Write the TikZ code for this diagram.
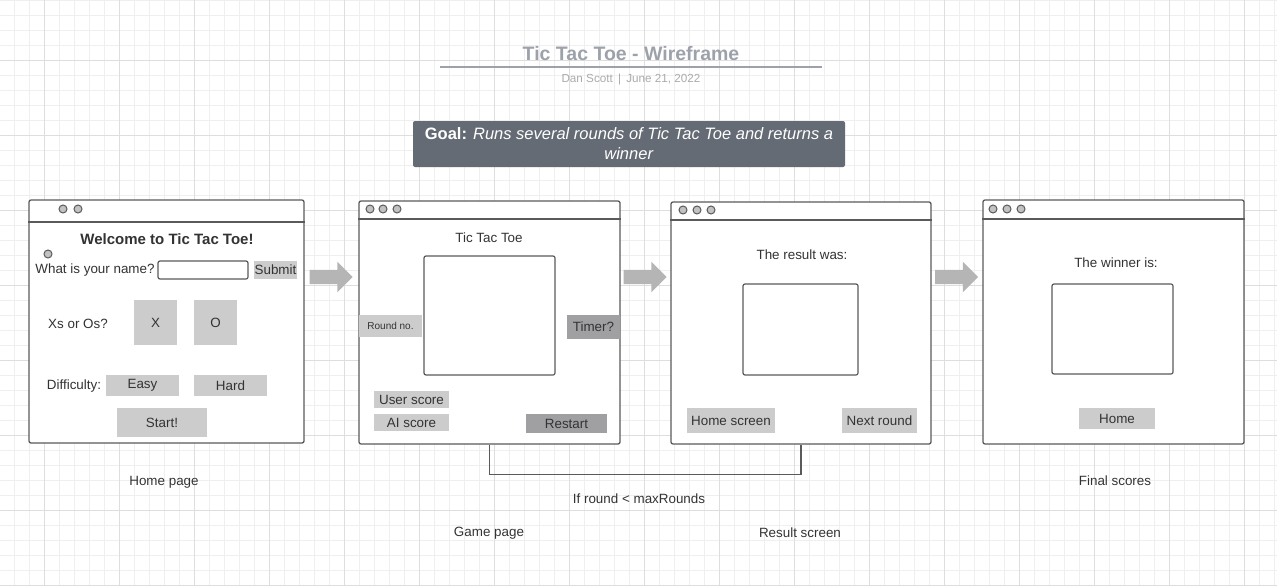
\documentclass[tikz,border=0pt]{standalone}
\usepackage{fontspec}
\setmainfont{Liberation Sans}
\usetikzlibrary{shapes.arrows}
\definecolor{ink}{HTML}{333333}
\definecolor{frame}{HTML}{5A5A5A}
\definecolor{btngray}{HTML}{CCCCCC}
\definecolor{btndark}{HTML}{A0A0A3}
\definecolor{dotgray}{HTML}{C2C2C2}
\definecolor{arrowgray}{HTML}{B5B5B5}
\definecolor{goalgray}{HTML}{646B74}
\definecolor{titlegray}{HTML}{9CA1AA}
\definecolor{subgray}{HTML}{ABABAB}
\definecolor{gridminor}{HTML}{EFEFEF}
\definecolor{gridmajor}{HTML}{DEDEDE}

\begin{document}
\begin{tikzpicture}[x=1pt,y=-1pt,
  window/.style={shape=rectangle,draw=frame,line width=1.3pt,fill=white,rounded corners=2pt,inner sep=0pt},
  inbox/.style={shape=rectangle,draw=frame,line width=1.2pt,fill=white,rounded corners=2pt,inner sep=0pt},
  btn/.style={shape=rectangle,fill=btngray,inner sep=0pt,text=ink,font=\fontsize{13.4}{15}\selectfont},
  darkbtn/.style={btn,fill=btndark},
  lbl/.style={text=ink,inner sep=0pt,yshift=-1pt,font=\fontsize{13.4}{15}\selectfont},
  winbtn/.style={shape=circle,draw=frame,fill=dotgray,line width=1pt,minimum size=8pt,inner sep=0pt},
  nextarrow/.style={shape=single arrow,fill=arrowgray,text height=0pt,text depth=0pt,inner xsep=0pt,inner ysep=7pt,single arrow head extend=8pt,minimum height=43pt}]
\useasboundingbox (0,0) rectangle (1277,586);
% grid paper
\foreach \gx in {-1,14,...,1274} \draw[gridminor,line width=0.8pt] (\gx,0) -- (\gx,586);
\foreach \gy in {0,15,...,585} \draw[gridminor,line width=0.8pt] (0,\gy) -- (1277,\gy);
\foreach \gx in {44,119,...,1244} \draw[gridmajor,line width=0.9pt] (\gx,0) -- (\gx,586);
\foreach \gy in {60,135,...,585} \draw[gridmajor,line width=0.9pt] (0,\gy) -- (1277,\gy);

% heading
\path (631,54) node (title) [font=\bfseries\fontsize{19.5}{22}\selectfont,text=titlegray] {Tic Tac Toe - Wireframe};
\path (440,67) coordinate (ruleL);
\path (822,67) coordinate (ruleR);
\draw [titlegray,line width=1.2pt] (ruleL) -- (ruleR);
\path (631,80) node (byline) [font=\fontsize{11.7}{13}\selectfont,text=subgray] {Dan Scott \,|\, June 21, 2022};
\path (629,144) node (goal) [shape=rectangle,fill=goalgray,rounded corners=2pt,minimum width=432pt,minimum height=46pt,text=white,align=center,font=\fontsize{16.5}{20}\selectfont] {\textbf{Goal:} \textit{Runs several rounds of Tic Tac Toe and returns a}\\\textit{winner}};

% home page
\path (166.5,321.5) node (homewin) [window,minimum width=275pt,minimum height=243pt] {};
\draw [frame,line width=1.3pt] (homewin.west |- 0,222) -- (homewin.east |- 0,222);
\foreach \dx in {63,78} \path (\dx,209) node (hdot\dx) [winbtn] {};
\path (48,254) node (hstray) [winbtn] {};
\path (167,238) node (welcome) [lbl,font=\bfseries\fontsize{15}{18}\selectfont] {Welcome to Tic Tac Toe!};
\path (95,269) node (askname) [lbl] {What is your name?};
\path (203,270) node (namefield) [inbox,minimum width=90pt,minimum height=18pt] {};
\path (275.5,270) node (submit) [btn,minimum width=43pt,minimum height=18pt] {Submit};
\path (78,323) node (xsos) [lbl] {Xs or Os?};
\path (155.5,322.5) node (pickx) [btn,minimum width=43pt,minimum height=45pt] {X};
\path (215.5,322.5) node (picko) [btn,minimum width=43pt,minimum height=45pt] {O};
\path (74,385) node (difficulty) [lbl] {Difficulty:};
\path (142.5,385.5) node (easy) [btn,minimum width=73pt,minimum height=21pt] {Easy};
\path (230.5,385.5) node (hard) [btn,minimum width=73pt,minimum height=21pt] {Hard};
\path (162,422.5) node (start) [btn,minimum width=90pt,minimum height=29pt] {Start!};

% game page
\path (489.5,322.5) node (gamewin) [window,minimum width=261pt,minimum height=243pt] {};
\draw [frame,line width=1.3pt] (gamewin.west |- 0,219) -- (gamewin.east |- 0,219);
\foreach \dx in {370,383,397} \path (\dx,209) node (gdot\dx) [winbtn] {};
\path (489,237) node (gametitle) [lbl] {Tic Tac Toe};
\path (489.5,315.5) node (board) [inbox,minimum width=131pt,minimum height=119pt] {};
\path (390.5,326) node (roundno) [btn,minimum width=63pt,minimum height=22pt,font=\fontsize{10}{12}\selectfont] {Round no.};
\path (593.5,327) node (timer) [darkbtn,minimum width=53pt,minimum height=24pt] {Timer?};
\path (411.5,399.5) node (userscore) [btn,minimum width=75pt,minimum height=17pt] {User score};
\path (411.5,422.5) node (aiscore) [btn,minimum width=75pt,minimum height=17pt] {AI score};
\path (566.5,423.5) node (restart) [darkbtn,minimum width=81pt,minimum height=19pt] {Restart};

% result screen
\path (801,323) node (resultwin) [window,minimum width=260pt,minimum height=242pt] {};
\draw [frame,line width=1.3pt] (resultwin.west |- 0,220) -- (resultwin.east |- 0,220);
\foreach \dx in {683,697,711} \path (\dx,210) node (rdot\dx) [winbtn] {};
\path (802,254) node (resulttext) [lbl] {The result was:};
\path (800.5,329.5) node (resultbox) [inbox,minimum width=115pt,minimum height=91pt] {};
\path (731,420.5) node (homescreen) [btn,minimum width=88pt,minimum height=25pt] {Home screen};
\path (879.5,420.5) node (nextround) [btn,minimum width=75pt,minimum height=25pt] {Next round};

% final scores
\path (1113.5,322) node (finalwin) [window,minimum width=261pt,minimum height=244pt] {};
\draw [frame,line width=1.3pt] (finalwin.west |- 0,219) -- (finalwin.east |- 0,219);
\foreach \dx in {993,1007,1021} \path (\dx,209) node (fdot\dx) [winbtn] {};
\path (1116,262) node (winnertext) [lbl] {The winner is:};
\path (1112.5,329) node (winnerbox) [inbox,minimum width=121pt,minimum height=90pt] {};
\path (1117,418.5) node (home) [btn,minimum width=76pt,minimum height=21pt] {Home};

% flow between screens
\path (327.5,277) node (arrA) [nextarrow] {};
\path (641.5,277) node (arrB) [nextarrow] {};
\path (953,277) node (arrC) [nextarrow] {};
\draw [frame,line width=1.3pt] (gamewin.south) -- ++(0,30) -| (resultwin.south);

% captions
\path (164,481) node (caphome) [lbl] {Home page};
\path (639,498) node (caploop) [lbl] {If round < maxRounds};
\path (489,532) node (capgame) [lbl] {Game page};
\path (800,532) node (capresult) [lbl] {Result screen};
\path (1115,480) node (capfinal) [lbl] {Final scores};
\end{tikzpicture}
\end{document}
